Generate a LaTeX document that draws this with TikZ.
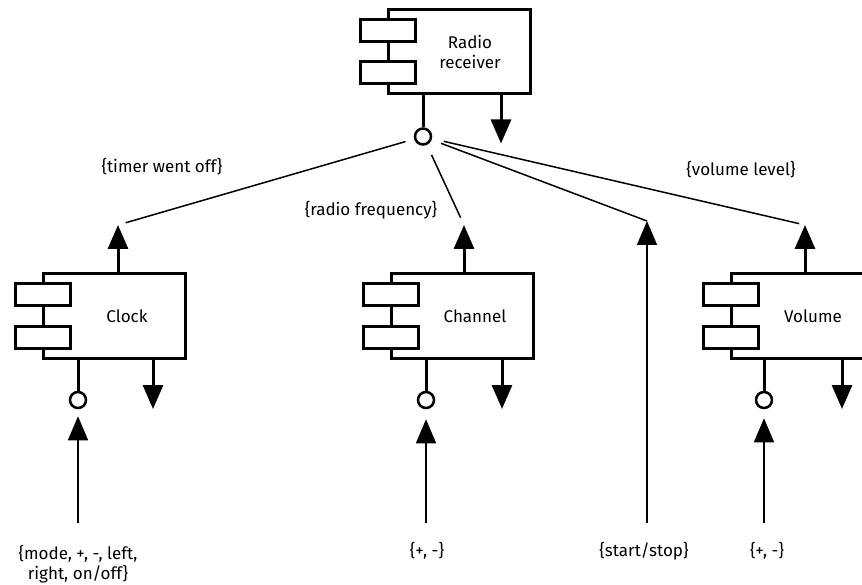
\documentclass[tikz,border=0pt]{standalone}
\usepackage{fontspec}
\setmainfont{Fira Sans}
\usetikzlibrary{arrows.meta,calc}

\tikzset{
  comp/.style={draw, line width=3pt, minimum width=142pt, minimum height=84pt, inner sep=0pt, outer sep=0pt},
  port/.style={draw, fill=white, line width=3pt, minimum width=55pt, minimum height=22pt, inner sep=0pt},
  iface/.style={draw, circle, fill=white, line width=2.5pt, minimum size=16pt, inner sep=0pt},
  stem/.style={line width=3pt},
  thickarrow/.style={line width=3pt, -{Triangle[length=24pt,width=20pt]}},
  thinarrow/.style={line width=1.5pt, -{Triangle[length=24pt,width=20pt]}},
  wire/.style={line width=1.5pt},
  lbl/.style={font=\fontsize{17}{20}\selectfont, align=center, inner sep=0pt}
}

\begin{document}
\begin{tikzpicture}[x=1pt, y=-1pt]
  \useasboundingbox (0,0) rectangle (862,585);
  \clip (0,0) rectangle (862,585);

  % radio receiver
  \node[comp] (radio) at (459,51.5) {};
  \node[lbl] (radiotxt) at ([xshift=11pt]radio.center) {Radio\\receiver};
  \node[port] (radiop1) at ($(radio.north west)!0.25!(radio.south west)$) {};
  \node[port] (radiop2) at ($(radio.north west)!0.75!(radio.south west)$) {};
  \node[iface] (radioif) at ([xshift=35pt, yshift=-43pt]radio.south west) {};
  \coordinate (radioout) at ([xshift=113pt, yshift=-50pt]radio.south west);
  \draw[stem] (radioif) -- (radioif |- radio.south);
  \draw[thickarrow] (radioout |- radio.south) -- (radioout);

  % clock
  \node[comp] (clock) at (114,316) {};
  \node[lbl] (clocktxt) at ([xshift=13pt]clock.center) {Clock};
  \node[port] (clockp1) at ($(clock.north west)!0.25!(clock.south west)$) {};
  \node[port] (clockp2) at ($(clock.north west)!0.75!(clock.south west)$) {};
  \node[iface] (clockif) at ([xshift=35pt, yshift=-42pt]clock.south west) {};
  \coordinate (clockout) at ([xshift=110pt, yshift=-51pt]clock.south west);
  \coordinate (clockup) at ([xshift=75pt, yshift=49pt]clock.north west);
  \draw[stem] (clockif) -- (clockif |- clock.south);
  \draw[thickarrow] (clockout |- clock.south) -- (clockout);
  \draw[thickarrow] (clockup |- clock.north) -- (clockup);

  % channel
  \node[comp] (channel) at (462,316) {};
  \node[lbl] (channeltxt) at ([xshift=13pt]channel.center) {Channel};
  \node[port] (channelp1) at ($(channel.north west)!0.25!(channel.south west)$) {};
  \node[port] (channelp2) at ($(channel.north west)!0.75!(channel.south west)$) {};
  \node[iface] (channelif) at ([xshift=35pt, yshift=-42pt]channel.south west) {};
  \coordinate (channelout) at ([xshift=111pt, yshift=-51pt]channel.south west);
  \coordinate (channelup) at ([xshift=73pt, yshift=49pt]channel.north west);
  \draw[stem] (channelif) -- (channelif |- channel.south);
  \draw[thickarrow] (channelout |- channel.south) -- (channelout);
  \draw[thickarrow] (channelup |- channel.north) -- (channelup);

  % volume
  \node[comp] (volume) at (802,316) {};
  \node[lbl] (volumetxt) at ([xshift=11pt]volume.center) {Volume};
  \node[port] (volumep1) at ($(volume.north west)!0.25!(volume.south west)$) {};
  \node[port] (volumep2) at ($(volume.north west)!0.75!(volume.south west)$) {};
  \node[iface] (volumeif) at ([xshift=33pt, yshift=-42pt]volume.south west) {};
  \coordinate (volumeout) at ([xshift=111pt, yshift=-51pt]volume.south west);
  \coordinate (volumeup) at ([xshift=74pt, yshift=49pt]volume.north west);
  \draw[stem] (volumeif) -- (volumeif |- volume.south);
  \draw[thickarrow] (volumeout |- volume.south) -- (volumeout);
  \draw[thickarrow] (volumeup |- volume.north) -- (volumeup);

  % wires from the radio interface
  \coordinate (stoptip) at (647,221);
  \draw[wire, shorten <=9pt, shorten >=8pt] (radioif) -- (clockup);
  \draw[wire, shorten <=11pt, shorten >=8pt] (radioif) -- (channelup);
  \draw[wire, shorten <=10pt] (radioif) -- (stoptip);
  \draw[wire, shorten <=12pt, shorten >=6pt] (radioif) -- (volumeup);

  \node[lbl] (timerlab) at (162,167) {\{timer went off\}};
  \node[lbl] (freqlab) at (371,210) {\{radio frequency\}};
  \node[lbl] (levellab) at (741,170) {\{volume level\}};

  % inputs
  \coordinate (clockbot) at (78,523);
  \coordinate (channelbot) at (426,523);
  \coordinate (stopbot) at (647,523);
  \coordinate (volumebot) at (764,523);
  \draw[thinarrow, shorten >=7pt] (clockbot) -- (clockif);
  \draw[thinarrow, shorten >=10pt] (channelbot) -- (channelif);
  \draw[thinarrow] (stopbot) -- (stoptip);
  \draw[thinarrow, shorten >=9pt] (volumebot) -- (volumeif);

  \node[lbl] (clocklab) at (78,564) {\{mode, +, -, left,\\right, on/off\}};
  \node[lbl] (channellab) at (427,551) {\{+, -\}};
  \node[lbl] (stoplab) at (644,551) {\{start/stop\}};
  \node[lbl] (volumelab) at (767,551) {\{+, -\}};
\end{tikzpicture}
\end{document}
